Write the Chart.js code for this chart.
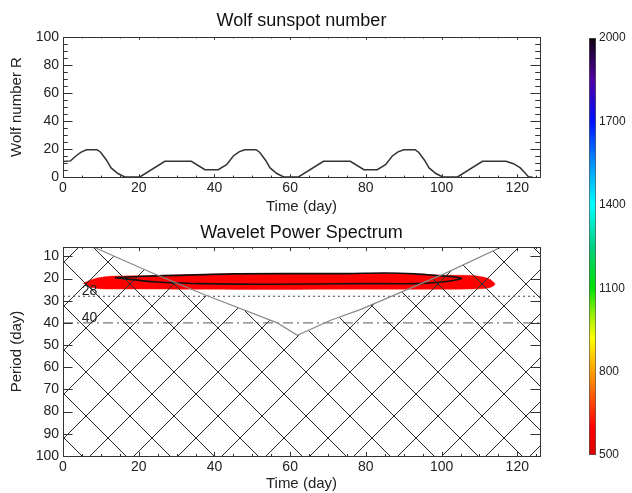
<!DOCTYPE html>
<html>
<head>
<meta charset="utf-8">
<title>Wolf sunspot number / Wavelet Power Spectrum</title>
<script src="https://cdn.jsdelivr.net/npm/chart.js@4.4.1/dist/chart.umd.min.js"></script>
<style>
  html, body { margin: 0; padding: 0; background: #fff; }
  #page { position: relative; width: 632px; height: 493px; overflow: hidden; }
  canvas { position: absolute; }
</style>
</head>
<body>
<div id="page">
  <canvas id="wolf" width="560" height="220" style="left:0;top:0"></canvas>
  <canvas id="wavelet" width="560" height="273" style="left:0;top:220px"></canvas>
  <canvas id="powerbar" width="72" height="493" style="left:560px;top:0"></canvas>
</div>
<script>
// values
const wolfDays = [0, 2, 3.4, 4.8, 6.2, 9, 10, 11.5, 12.7, 14.5, 16.3, 20.3, 26.9, 33.9, 37.5, 41,
  43.2, 45, 46.5, 48, 51, 52, 53.5, 54.7, 56.5, 58.3, 62.2, 68.8, 75.9, 79.5, 83,
  85.2, 87, 88.5, 90, 93, 94, 95.5, 96.7, 98.5, 100.3, 104.2, 110.8, 117, 119, 120.8, 122, 123, 124];
const wolfValues = [11, 11.5, 15, 17.8, 19.5, 19.5, 17.5, 12, 6.5, 2.5, 0, 0, 11.2, 11.2, 5.2, 5.2,
  8.8, 15, 18, 19.5, 19.5, 17.5, 12, 6.5, 2.5, 0, 0, 11.2, 11.2, 5.2, 5.2,
  8.8, 15, 18, 19.5, 19.5, 17.5, 12, 6.5, 2.5, 0, 0, 11.2, 11.2, 9.5, 6.5, 3, 0, 0];

const timeRange = [0, 126];
const timeTicks = [0, 20, 40, 60, 80, 100, 120];
const wolfTicks = [0, 20, 40, 60, 80, 100];
const periodRange = [5.8, 100];
const periodTicks = [10, 20, 30, 40, 50, 60, 70, 80, 90, 100];
const powerTicks = [500, 800, 1100, 1400, 1700, 2000];

// cone of influence
const coiDays = [0, 8, 23, 37.1, 56.6, 61.9, 70.7, 78.5, 100.8, 115.8, 126];
const coiPeriods = [0, 5.8, 17.1, 27.1, 40, 45.6, 38.8, 34, 17.8, 5.8, 0];

// filled 500 contour: top edge left to right, then bottom edge back
const bandDays = [5.3, 7.1, 9.7, 12.4, 20, 30, 45, 63, 75, 85, 95, 100, 108, 112.3, 114.1,
  112.3, 108, 95, 75, 55, 35, 20, 9.7, 7.1];
const bandPeriods = [22.3, 20.8, 19.6, 19.0, 18.8, 18.4, 17.9, 17.9, 17.9, 17.6, 18.1, 18.5, 18.7, 20.0, 22.6,
  24.3, 24.7, 24.8, 24.8, 24.9, 24.8, 24.7, 24.6, 23.8];

// black contour loop
const loopDays = [13.7, 20, 30, 45, 63, 75, 85, 93, 98, 103.5, 105.2, 100, 93.7, 78.7, 54, 36.3, 24.8, 13.7];
const loopPeriods = [19.6, 19.1, 18.6, 17.9, 17.8, 17.8, 17.5, 17.9, 18.6, 19.3, 20, 21.6, 22.3, 22.3, 22.6, 22.3, 21.6, 19.6];

const refPeriods = [28, 40];
const refLabelDay = 7;

const powerStops = [0, 0.067, 0.133, 0.2, 0.28, 0.333, 0.4, 0.5, 0.6, 0.7, 0.8, 0.9, 1];
const powerColors = ['#d80000', '#ff0000', '#ff5000', '#ffa000', '#ffff00', '#a0f000', '#00e000',
  '#00d080', '#00ffff', '#0090ff', '#0010ff', '#5000a0', '#100010'];

Chart.defaults.font.family = "'Liberation Sans', Arial, sans-serif";
Chart.defaults.color = '#222';

const pts = (xs, ys) => xs.map((x, i) => ({ x: x, y: ys[i] }));
const fixTicks = list => scale => { scale.ticks = list.map(v => ({ value: v })); };
const plain = v => String(v);

// IDL style box with inward ticks on all four sides
const idlFrame = {
  id: 'idlFrame',
  afterDatasetsDraw(chart, args, opts) {
    const { ctx, chartArea: a, scales: { x, y } } = chart;
    const xLen = (a.bottom - a.top) * 0.02;
    const yLen = (a.right - a.left) * 0.02;
    ctx.save();
    ctx.strokeStyle = '#333';
    ctx.lineWidth = 1;
    ctx.beginPath();
    const xMark = (v, len) => {
      const px = Math.round(x.getPixelForValue(v)) + 0.5;
      ctx.moveTo(px, a.bottom); ctx.lineTo(px, a.bottom - len);
      ctx.moveTo(px, a.top); ctx.lineTo(px, a.top + len);
    };
    const yMark = (v, len) => {
      const py = Math.round(y.getPixelForValue(v)) + 0.5;
      ctx.moveTo(a.left, py); ctx.lineTo(a.left + len, py);
      ctx.moveTo(a.right, py); ctx.lineTo(a.right - len, py);
    };
    x.ticks.forEach(t => xMark(t.value, xLen));
    y.ticks.forEach(t => yMark(t.value, yLen));
    if (opts.minorX) {
      for (let v = Math.ceil(x.min / opts.minorX) * opts.minorX; v <= x.max; v += opts.minorX) {
        if (!x.ticks.some(t => t.value === v)) xMark(v, xLen / 2);
      }
    }
    if (opts.minorY) {
      for (let v = Math.ceil(y.min / opts.minorY) * opts.minorY; v <= y.max; v += opts.minorY) {
        if (!y.ticks.some(t => t.value === v)) yMark(v, yLen / 2);
      }
    }
    ctx.stroke();
    ctx.strokeRect(Math.round(a.left) + 0.5, Math.round(a.top) + 0.5,
      Math.round(a.right - a.left), Math.round(a.bottom - a.top));
    ctx.restore();
  }
};

// "28" and "40" next to the reference lines
const refLabels = {
  id: 'refLabels',
  afterDraw(chart) {
    const { ctx, scales: { x, y } } = chart;
    ctx.save();
    ctx.font = "14px 'Liberation Sans', Arial, sans-serif";
    ctx.fillStyle = '#222';
    ctx.textAlign = 'center';
    ctx.textBaseline = 'middle';
    refPeriods.forEach(p => {
      ctx.fillText(String(p), x.getPixelForValue(refLabelDay), y.getPixelForValue(p) - 5);
    });
    ctx.restore();
  }
};

function hatchPattern(size, offX, offY) {
  const c = document.createElement('canvas');
  c.width = size; c.height = size;
  const g = c.getContext('2d');
  g.strokeStyle = '#2a2a2a';
  g.lineWidth = 1;
  g.beginPath();
  g.moveTo(-1, -1); g.lineTo(size + 1, size + 1);
  g.moveTo(-1, size + 1); g.lineTo(size + 1, -1);
  g.stroke();
  const p = g.createPattern(c, 'repeat');
  p.setTransform(new DOMMatrix().translate(offX, offY));
  return p;
}

const axisTitle = (text, pad) => ({ display: true, text: text, font: { size: 15 }, color: '#222', padding: pad });
const tickFont = { size: 14 };

// top panel
new Chart(document.getElementById('wolf'), {
  type: 'scatter',
  data: {
    datasets: [{
      data: pts(wolfDays, wolfValues),
      showLine: true,
      borderColor: '#333',
      borderWidth: 1.5,
      pointRadius: 0
    }]
  },
  options: {
    responsive: false,
    animation: false,
    events: [],
    layout: { padding: { left: 0, right: 20, top: 0, bottom: 0 } },
    plugins: {
      legend: { display: false },
      tooltip: { enabled: false },
      title: {
        display: true, fullSize: false, text: 'Wolf sunspot number', color: '#111',
        font: { size: 18, weight: 'normal' }, padding: { top: 10, bottom: 5.4 }
      },
      idlFrame: { minorX: 5, minorY: 5 }
    },
    scales: {
      x: {
        type: 'linear', min: timeRange[0], max: timeRange[1],
        afterBuildTicks: fixTicks(timeTicks),
        afterFit: s => { s.height = 43; },
        grid: { display: false, drawTicks: false },
        border: { display: false },
        ticks: { font: tickFont, padding: 3, color: '#222', maxRotation: 0, callback: plain },
        title: axisTitle('Time (day)', { top: 0, bottom: 4 })
      },
      y: {
        min: 0, max: 100,
        afterBuildTicks: fixTicks(wolfTicks),
        afterFit: s => { s.width = 63; },
        grid: { display: false, drawTicks: false },
        border: { display: false },
        ticks: { font: tickFont, padding: 4, color: '#222', callback: plain },
        title: axisTitle('Wolf number R', { top: 8, bottom: 0 })
      }
    }
  },
  plugins: [idlFrame]
});

// bottom panel
const refData = p => [{ x: timeRange[0], y: p }, { x: timeRange[1], y: p }];
new Chart(document.getElementById('wavelet'), {
  type: 'scatter',
  data: {
    datasets: [
      {
        data: pts(coiDays, coiPeriods),
        showLine: true, pointRadius: 0, tension: 0,
        borderColor: '#8a8a8a', borderWidth: 1.2,
        backgroundColor: hatchPattern(44, 20, 42),
        fill: { value: periodRange[1] }
      },
      {
        data: refData(refPeriods[0]),
        showLine: true, pointRadius: 0,
        borderColor: '#444', borderWidth: 1, borderDash: [2, 3]
      },
      {
        data: refData(refPeriods[1]),
        showLine: true, pointRadius: 0,
        borderColor: '#7a7a7a', borderWidth: 1.2, borderDash: [10, 4, 2, 4]
      },
      {
        data: pts(loopDays, loopPeriods),
        showLine: true, pointRadius: 0, tension: 0.3,
        borderColor: '#111', borderWidth: 1.6
      },
      {
        data: pts(bandDays, bandPeriods),
        showLine: true, pointRadius: 0, tension: 0.3,
        borderColor: '#ff0000', borderWidth: 0.5,
        backgroundColor: '#ff0000',
        fill: 'shape'
      }
    ]
  },
  options: {
    responsive: false,
    animation: false,
    events: [],
    layout: { padding: { left: 0, right: 20, top: 0, bottom: 0 } },
    plugins: {
      legend: { display: false },
      tooltip: { enabled: false },
      title: {
        display: true, fullSize: false, text: 'Wavelet Power Spectrum', color: '#111',
        font: { size: 18, weight: 'normal' }, padding: { top: 2, bottom: 3.4 }
      },
      idlFrame: { minorX: 5 }
    },
    scales: {
      x: {
        type: 'linear', min: timeRange[0], max: timeRange[1],
        afterBuildTicks: fixTicks(timeTicks),
        afterFit: s => { s.height = 37; },
        grid: { display: false, drawTicks: false },
        border: { display: false },
        ticks: { font: tickFont, padding: 3, color: '#222', maxRotation: 0, callback: plain },
        title: axisTitle('Time (day)', { top: 0, bottom: 0 })
      },
      y: {
        type: 'linear', reverse: true, min: periodRange[0], max: periodRange[1],
        afterBuildTicks: fixTicks(periodTicks),
        afterFit: s => { s.width = 63; },
        grid: { display: false, drawTicks: false },
        border: { display: false },
        ticks: { font: tickFont, padding: 4, color: '#222', callback: plain },
        title: axisTitle('Period (day)', { top: 8, bottom: 0 })
      }
    }
  },
  plugins: [idlFrame, refLabels]
});

// colour bar
new Chart(document.getElementById('powerbar'), {
  type: 'bar',
  data: {
    labels: [''],
    datasets: [{
      data: [[powerTicks[0], powerTicks[powerTicks.length - 1]]],
      barPercentage: 1, categoryPercentage: 1,
      borderColor: '#555', borderWidth: 1, borderSkipped: false,
      backgroundColor: c => {
        const a = c.chart.chartArea;
        if (!a) return null;
        const g = c.chart.ctx.createLinearGradient(0, a.bottom, 0, a.top);
        powerStops.forEach((s, i) => g.addColorStop(s, powerColors[i]));
        return g;
      }
    }]
  },
  options: {
    responsive: false,
    animation: false,
    events: [],
    layout: { padding: { left: 29, right: 0, top: 38, bottom: 38 } },
    plugins: { legend: { display: false }, tooltip: { enabled: false } },
    scales: {
      x: { display: false },
      y: {
        position: 'right',
        min: powerTicks[0], max: powerTicks[powerTicks.length - 1],
        afterBuildTicks: fixTicks(powerTicks),
        afterFit: s => { s.width = 36; },
        grid: { display: false, drawTicks: false },
        border: { display: false },
        ticks: { font: { size: 12 }, padding: 3, color: '#222', callback: plain }
      }
    }
  }
});
</script>
</body>
</html>
